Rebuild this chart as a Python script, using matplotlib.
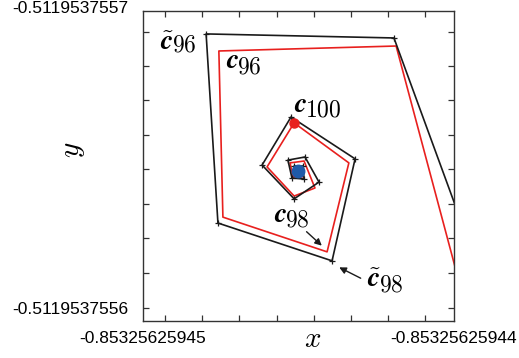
import matplotlib
matplotlib.use("Agg")
import matplotlib.pyplot as plt

plt.rcParams['mathtext.fontset'] = 'cm'

# iterates, offset coordinates (x in 1e-12, y in 1e-11 units from lower-left corner)
ct_x = [10.45, 8.07, 2.03, 2.41, 6.08, 6.82, 4.76, 3.83, 4.86, 5.66,
        5.21, 4.66, 4.79, 5.18, 5.14, 4.86, 4.95, 5.08, 5.01]
ct_y = [2.61, 9.13, 9.26, 3.16, 1.94, 5.23, 6.58, 5.03, 3.94, 4.48,
        5.29, 5.19, 4.61, 4.58, 5.00, 5.00, 4.77, 4.81, 4.90]
c_x = [10.26, 8.14, 2.44, 2.57, 5.92, 6.62, 4.86, 3.99, 4.86, 5.53,
       5.18, 4.73, 4.82, 5.14, 5.11, 4.89, 4.96, 5.04, 5.00]
c_y = [0.90, 8.87, 8.71, 3.35, 2.23, 5.10, 6.39, 4.97, 4.03, 4.29,
       5.16, 5.10, 4.65, 4.65, 4.97, 4.94, 4.78, 4.82, 4.88]
i100 = 6
limit_x, limit_y = 5.00, 4.85

x_ticks = [0.71, 1.90, 3.09, 4.31, 5.50, 6.69, 7.88, 9.07]
y_ticks = [0.41, 1.54, 2.67, 3.77, 4.89, 6.00, 7.13, 8.24, 9.33]
x_corner = ["-0.85325625945", "-0.85325625944"]
y_corner = ["-0.5119537556", "-0.5119537557"]

fig = plt.figure(figsize=(5.19, 3.58), dpi=100)
ax = fig.add_axes([0.2755, 0.1034, 0.5992, 0.8659])

ax.plot(c_x, c_y, color='#e8201e', lw=1.2, zorder=2)
ax.plot(ct_x, ct_y, color='#1a1a1a', lw=1.2, marker='+', ms=4, mew=0.9, zorder=3)
ax.plot(c_x[i100], c_y[i100], 'o', color='#e8201e', ms=6.5, zorder=4)
ax.plot(limit_x, limit_y, 'o', color='#1f5aa8', ms=9, zorder=5)

ax.set_xlim(0, 10)
ax.set_ylim(0, 10)
ax.set_xticks(x_ticks, labels=[])
ax.set_yticks(y_ticks, labels=[])
ax.tick_params(direction='in', length=4, width=0.9, top=True, right=True, color='#333333')
for s in ax.spines.values():
    s.set_linewidth(1.0)
    s.set_color('#333333')

# corner values
tkw = dict(family='Liberation Sans', fontsize=12.5, transform=ax.transAxes)
ax.text(0.0, -0.058, x_corner[0], ha='center', va='center', **tkw)
ax.text(1.0, -0.058, x_corner[1], ha='center', va='center', **tkw)
ax.text(-0.048, 0.037, y_corner[0], ha='right', va='center', **tkw)
ax.text(-0.048, 1.008, y_corner[1], ha='right', va='center', **tkw)

ax.text(0.547, -0.058, r'$x$', fontsize=21, ha='center', va='center', transform=ax.transAxes)
ax.text(-0.225, 0.552, r'$y$', fontsize=21, ha='center', va='center', rotation=90,
        transform=ax.transAxes)


def label(x, y, sub, tilde=False, drop=3.5):
    sym = r'$\tilde{\boldsymbol{c}}$' if tilde else r'$\boldsymbol{c}$'
    t = ax.text(x, y, sym, fontsize=20, ha='left', va='baseline')
    # subscript follows the glyph's right edge, a little below its baseline
    ax.annotate(r'$\mathrm{%s}$' % sub, xy=(1, y), xycoords=(t, 'data'),
                xytext=(-1.5, -drop), textcoords='offset points',
                fontsize=17, ha='left', va='baseline')


label(0.55, 8.74, '96', tilde=True, drop=1.0)
label(2.67, 8.15, '96')
label(4.86, 6.74, '100')
label(4.21, 3.20, '98')
label(7.19, 1.11, '98', tilde=True)

akw = dict(arrowstyle='-|>', color='#1a1a1a', lw=1.0, mutation_scale=10, shrinkA=0, shrinkB=0)
ax.annotate('', xy=(5.75, 2.43), xytext=(5.26, 2.88), arrowprops=akw)
ax.annotate('', xy=(6.31, 1.73), xytext=(7.00, 1.38), arrowprops=akw)

fig.savefig('out.png', dpi=100)
